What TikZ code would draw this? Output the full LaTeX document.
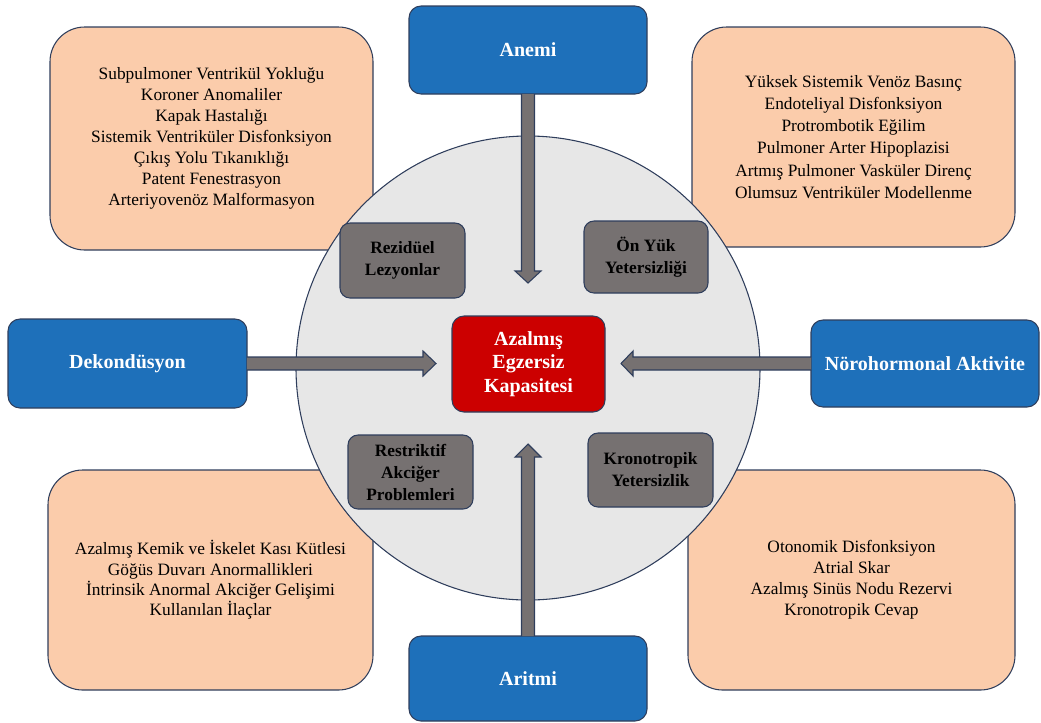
\documentclass[tikz,border=0pt]{standalone}
\usepackage{fontspec}
\setmainfont{Liberation Serif}
\usetikzlibrary{calc}
\definecolor{peach}{RGB}{251,204,171}
\definecolor{bluebox}{RGB}{30,112,186}
\definecolor{graybox}{RGB}{118,113,113}
\definecolor{circfill}{RGB}{231,231,231}
\definecolor{redbox}{RGB}{204,0,0}
\definecolor{edge}{RGB}{47,62,92}
\tikzset{
  base/.style={draw=edge, line width=0.8pt, inner sep=0pt, outer sep=0pt, align=center},
  peachbox/.style={base, fill=peach, rounded corners=26pt, font=\fontsize{13}{15.8}\selectfont},
  bluelabel/.style={base, fill=bluebox, rounded corners=9pt, text=white, font=\bfseries\fontsize{15}{18}\selectfont},
  graylabel/.style={base, fill=graybox, rounded corners=7.5pt, text=black, font=\bfseries\fontsize{13}{16.5}\selectfont},
  redlabel/.style={base, fill=redbox, rounded corners=9pt, text=white, font=\bfseries\fontsize{15}{17.6}\selectfont},
  blockarrow/.style={draw=edge, line width=0.8pt, fill=graybox, line join=miter},
}
\begin{document}
\begin{tikzpicture}[x=0.75pt,y=-0.75pt]
\useasboundingbox (0,0) rectangle (1041,722);
% peach boxes
\node[peachbox, minimum width=242.25pt, minimum height=167.25pt] (tl) at (211.5,138.5)
 {Subpulmoner Ventrikül Yokluğu\\Koroner Anomaliler\\Kapak Hastalığı\\Sistemik Ventriküler Disfonksiyon\\Çıkış Yolu Tıkanıklığı\\Patent Fenestrasyon\\Arteriyovenöz Malformasyon};
\node[peachbox, font=\fontsize{13}{16.6}\selectfont, minimum width=242.25pt, minimum height=165pt] (tr) at (853.5,137)
 {Yüksek Sistemik Venöz Basınç\\Endoteliyal Disfonksiyon\\Protrombotik Eğilim\\Pulmoner Arter Hipoplazisi\\Artmış Pulmoner Vasküler Direnç\\Olumsuz Ventriküler Modellenme};
\node[peachbox, font=\fontsize{13}{15.3}\selectfont, minimum width=243.75pt, minimum height=165pt] (bl) at (210.5,580)
 {Azalmış Kemik ve İskelet Kası Kütlesi\\Göğüs Duvarı Anormallikleri\\İntrinsik Anormal Akciğer Gelişimi\\Kullanılan İlaçlar};
\node[peachbox, minimum width=245.25pt, minimum height=165pt] (br) at (851.5,580)
 {Otonomik Disfonksiyon\\Atrial Skar\\Azalmış Sinüs Nodu Rezervi\\Kronotropik Cevap};
% circle
\node[draw=edge, line width=0.8pt, fill=circfill, circle, minimum size=348pt, inner sep=0pt, outer sep=0pt] (circ) at (528,368) {};
% blue boxes
\node[bluelabel, minimum width=178.5pt, minimum height=66pt] (anemi) at (528,50) {Anemi};
\node[bluelabel, minimum width=179.25pt, minimum height=66.75pt] (dekon) at (127.5,363.5) {Dekondüsyon};
\node[bluelabel, minimum width=171pt, minimum height=65.25pt] (noro) at (925,363.5) {Nörohormonal Aktivite};
\node[bluelabel, minimum width=178.5pt, minimum height=63.75pt] (aritmi) at (528,678.5) {Aritmi};
% gray boxes
\node[graylabel, minimum width=93.75pt, minimum height=56.25pt] (rez) at (402.5,260.5) {Rezidüel\\Lezyonlar};
\node[graylabel, minimum width=93pt, minimum height=54pt] (onyuk) at (646,257) {Ön Yük\\Yetersizliği};
\node[graylabel, minimum width=93.75pt, minimum height=55.5pt] (rest) at (410.5,472) {Restriktif\\Akciğer\\Problemleri};
\node[graylabel, minimum width=93.75pt, minimum height=55.5pt] (krono) at (650.5,470) {Kronotropik\\Yetersizlik};
% center
\node[redlabel, minimum width=114.75pt, minimum height=72pt] (center) at (528.5,364) {Azalmış\\Egzersiz\\Kapasitesi};
% arrow tips
\coordinate (tipT) at (528,283);
\coordinate (tipB) at (528,444);
\coordinate (tipL) at (436,363.5);
\coordinate (tipR) at (621,363.5);
% top arrow
\draw[blockarrow] ($(anemi.south)+(-6.5,0)$) -- ($(tipT)+(-6.5,-12)$) -- ($(tipT)+(-13,-12)$) -- (tipT)
  -- ($(tipT)+(13,-12)$) -- ($(tipT)+(6.5,-12)$) -- ($(anemi.south)+(6.5,0)$);
% bottom arrow
\draw[blockarrow] ($(aritmi.north)+(-6.5,0)$) -- ($(tipB)+(-6.5,13)$) -- ($(tipB)+(-13,13)$) -- (tipB)
  -- ($(tipB)+(13,13)$) -- ($(tipB)+(6.5,13)$) -- ($(aritmi.north)+(6.5,0)$);
% left arrow
\draw[blockarrow] ($(dekon.east)+(0,-6.5)$) -- ($(tipL)+(-13,-6.5)$) -- ($(tipL)+(-13,-12.5)$) -- (tipL)
  -- ($(tipL)+(-13,12.5)$) -- ($(tipL)+(-13,6.5)$) -- ($(dekon.east)+(0,6.5)$);
% right arrow
\draw[blockarrow] ($(noro.west)+(0,-6.5)$) -- ($(tipR)+(12,-6.5)$) -- ($(tipR)+(12,-12.5)$) -- (tipR)
  -- ($(tipR)+(12,12.5)$) -- ($(tipR)+(12,6.5)$) -- ($(noro.west)+(0,6.5)$);
\end{tikzpicture}
\end{document}
